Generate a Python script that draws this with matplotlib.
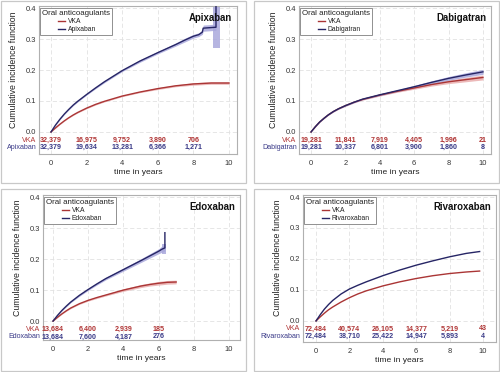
import matplotlib
matplotlib.use("Agg")
import matplotlib.pyplot as plt
from matplotlib.patches import Rectangle
from matplotlib.lines import Line2D
from matplotlib.legend_handler import HandlerLine2D
import matplotlib.transforms as mtransforms

plt.rcParams['font.family'] = ['Liberation Sans', 'DejaVu Sans']

RED = '#aa3535'
RED_BAND = '#e9adad'
BLUE = '#262565'
BLUE_BAND = '#a9a8dc'
RED_TXT = '#b03434'
BLUE_TXT = '#3a3a88'

# ---------------- data ----------------
drugs = ['Apixaban', 'Dabigatran', 'Edoxaban', 'Rivaroxaban']

# Apixaban panel
apx_vka_t = [0, 0.25, 0.5, 0.75, 1, 1.25, 1.5, 2, 2.5, 3, 4, 5, 6, 7, 8, 9, 10]
apx_vka_est = [0, 0.013, 0.025, 0.036, 0.046, 0.055, 0.063, 0.077, 0.089, 0.099, 0.116, 0.129, 0.140, 0.149, 0.155, 0.158, 0.158]
apx_vka_ci = [0, 0.001, 0.001, 0.001, 0.001, 0.0015, 0.0015, 0.002, 0.002, 0.002, 0.002, 0.002, 0.003, 0.003, 0.004, 0.004, 0.004]
apx_drug_t = [0, 0.25, 0.5, 0.75, 1, 1.25, 1.5, 2, 2.5, 3, 4, 5, 6, 7, 7.5, 8, 8.3, 8.5, 8.55, 9.27, 9.27]
apx_drug_est = [0, 0.022, 0.041, 0.058, 0.073, 0.087, 0.099, 0.121, 0.142, 0.162, 0.198, 0.229, 0.256, 0.282, 0.296, 0.309, 0.314, 0.322, 0.335, 0.338, 0.45]
apx_drug_ci = [0, 0.001, 0.0015, 0.0015, 0.002, 0.002, 0.002, 0.002, 0.0025, 0.003, 0.003, 0.004, 0.004, 0.005, 0.006, 0.006, 0.006, 0.007, 0.010, 0.010, 0.010]
apx_tail_t = [9.1, 9.5]
apx_tail_lo = [0.27, 0.27]
apx_tail_hi = [0.45, 0.45]

# Dabigatran panel
dab_vka_t = [0, 0.25, 0.5, 0.75, 1, 1.3, 1.6, 2, 2.5, 3, 4, 5, 6, 7, 8, 9, 10]
dab_vka_est = [0, 0.017, 0.032, 0.044, 0.055, 0.066, 0.075, 0.085, 0.096, 0.105, 0.119, 0.131, 0.142, 0.153, 0.162, 0.169, 0.176]
dab_vka_ci = [0, 0.001, 0.001, 0.001, 0.001, 0.0015, 0.0015, 0.002, 0.002, 0.002, 0.003, 0.003, 0.004, 0.005, 0.006, 0.007, 0.008]
dab_drug_t = [0, 0.25, 0.5, 0.75, 1, 1.3, 1.6, 2, 2.5, 3, 4, 5, 6, 7, 8, 9, 10]
dab_drug_est = [0, 0.017, 0.032, 0.044, 0.055, 0.066, 0.075, 0.085, 0.096, 0.106, 0.120, 0.133, 0.146, 0.160, 0.173, 0.184, 0.194]
dab_drug_ci = [0, 0.001, 0.001, 0.001, 0.001, 0.0015, 0.0015, 0.002, 0.002, 0.002, 0.003, 0.003, 0.004, 0.005, 0.006, 0.007, 0.008]

# Edoxaban panel
edo_vka_t = [0, 0.25, 0.5, 0.75, 1, 1.5, 2, 2.5, 3, 4, 5, 5.5, 6, 6.5, 7.0]
edo_vka_est = [0, 0.012, 0.023, 0.033, 0.042, 0.056, 0.067, 0.076, 0.084, 0.100, 0.113, 0.118, 0.122, 0.125, 0.126]
edo_vka_ci = [0, 0.001, 0.001, 0.0015, 0.002, 0.002, 0.0025, 0.003, 0.003, 0.004, 0.005, 0.005, 0.006, 0.006, 0.006]
edo_drug_t = [0, 0.25, 0.5, 0.75, 1, 1.5, 2, 2.5, 3, 4, 5, 5.5, 6, 6.2, 6.36, 6.36]
edo_drug_est = [0, 0.018, 0.034, 0.048, 0.061, 0.083, 0.102, 0.120, 0.137, 0.166, 0.195, 0.210, 0.225, 0.232, 0.236, 0.285]
edo_drug_ci = [0, 0.001, 0.0015, 0.002, 0.002, 0.003, 0.003, 0.0035, 0.004, 0.005, 0.006, 0.007, 0.008, 0.010, 0.010, 0.010]
edo_tail_t = [6.2, 6.4]
edo_tail_lo = [0.215, 0.215]
edo_tail_hi = [0.25, 0.25]

# Rivaroxaban panel
riv_vka_t = [0, 0.25, 0.5, 0.75, 1, 1.5, 2, 2.5, 3, 4, 5, 6, 7, 8, 9, 9.8]
riv_vka_est = [0, 0.013, 0.025, 0.036, 0.045, 0.061, 0.075, 0.087, 0.097, 0.113, 0.126, 0.137, 0.146, 0.153, 0.158, 0.161]
riv_drug_t = [0, 0.25, 0.5, 0.75, 1, 1.5, 2, 2.5, 3, 4, 5, 6, 7, 8, 9, 9.8]
riv_drug_est = [0, 0.020, 0.038, 0.053, 0.066, 0.087, 0.103, 0.115, 0.126, 0.146, 0.164, 0.180, 0.194, 0.207, 0.218, 0.224]

risk_times = [0, 2, 4, 6, 8, 10]
apx_risk_vka = ['32,379', '16,975', '9,752', '3,890', '706']
apx_risk_drug = ['32,379', '19,634', '13,281', '6,366', '1,271']
dab_risk_vka = ['19,281', '11,841', '7,919', '4,405', '1,996', '21']
dab_risk_drug = ['19,281', '10,337', '6,801', '3,900', '1,860', '8']
edo_risk_vka = ['13,684', '6,400', '2,939', '185']
edo_risk_drug = ['13,684', '7,600', '4,187', '276']
riv_risk_vka = ['72,484', '40,574', '26,105', '14,377', '5,219', '43']
riv_risk_drug = ['72,484', '38,710', '25,422', '14,947', '5,893', '4']

x_ticks = [0, 2, 4, 6, 8, 10]
y_ticks = [0.0, 0.1, 0.2, 0.3, 0.4]

# ---------------- figure ----------------
W, H = 500, 372
fig = plt.figure(figsize=(W / 100, H / 100), dpi=100)


def fx(px):
    return px / W


def fy(py):
    return 1 - py / H


def frame(l, t, r, b):
    fig.add_artist(Rectangle((fx(l), fy(b)), fx(r) - fx(l), fy(t) - fy(b),
                             transform=fig.transFigure, fill=False,
                             edgecolor='#c8c8c8', linewidth=0.9))


def make_axes(l, t, r, b, xlim, ylim):
    ax = fig.add_axes([fx(l), fy(b), fx(r) - fx(l), fy(t) - fy(b)])
    ax.set_xlim(*xlim)
    ax.set_ylim(*ylim)
    return ax


def draw_curve(ax, t, est, ci, col, band, tail=None):
    if ci is not None:
        lo = [e - c for e, c in zip(est, ci)]
        hi = [e + c for e, c in zip(est, ci)]
        ax.fill_between(t, lo, hi, color=band, alpha=0.85, linewidth=0, zorder=2)
    if tail is not None:
        tt, tlo, thi = tail
        ax.fill_between(tt, tlo, thi, color=band, alpha=0.85, linewidth=0, zorder=2)
    ax.plot(t, est, color=col, linewidth=1.0, zorder=3, solid_joinstyle='round')


def draw_panel(ax, name, vka, drug, risk_vka, risk_drug, tail=None):
    draw_curve(ax, *vka, RED, RED_BAND)
    draw_curve(ax, *drug, BLUE, BLUE_BAND, tail)
    ax.set_xticks(x_ticks)
    ax.set_yticks(y_ticks)
    ax.set_yticklabels([f'{v:.1f}' for v in y_ticks])
    ax.tick_params(axis='both', length=0, labelsize=5.4, colors='#333333')
    ax.tick_params(axis='x', pad=4)
    ax.tick_params(axis='y', pad=2)
    for s in ax.spines.values():
        s.set_color('#b0b0b0')
        s.set_linewidth(0.8)
    ax.grid(True, color='#e2e2e2', linestyle=(0, (5, 3)), linewidth=0.6, zorder=0)
    ax.set_axisbelow(True)
    ax.set_ylabel('Cumulative incidence function', fontsize=6.3, color='#222222')
    ax.set_xlabel('time in years', fontsize=6.1, labelpad=2, color='#222222')
    ax.yaxis.set_label_coords(-0.108, 0.57)
    trans = mtransforms.blended_transform_factory(ax.transAxes, ax.transData)
    ax.text(-0.012, -0.026, 'VKA', transform=trans, ha='right', va='center',
            fontsize=5.1, color=RED_TXT)
    ax.text(-0.012, -0.051, name, transform=trans, ha='right', va='center',
            fontsize=5.1, color=BLUE_TXT)
    for xt, v in zip(risk_times, risk_vka):
        ax.text(xt, -0.026, v, ha='center', va='center', fontsize=5.1,
                fontweight='bold', color=RED_TXT)
    for xt, v in zip(risk_times, risk_drug):
        ax.text(xt, -0.051, v, ha='center', va='center', fontsize=5.1,
                fontweight='bold', color=BLUE_TXT)
    ax.text(0.975, 0.95, name, transform=ax.transAxes, ha='right', va='top',
            fontsize=6.9, fontweight='bold', color='#111111')
    handles = [Line2D([], [], color=RED, lw=1.0), Line2D([], [], color=BLUE, lw=1.0)]
    leg = ax.legend(handles, ['VKA', name], title='Oral anticoagulants',
                    loc='upper left', bbox_to_anchor=(0.005, 0.985),
                    fontsize=4.9, title_fontsize=5.7, frameon=True,
                    fancybox=False, edgecolor='#909090', framealpha=1,
                    handlelength=3.4, handletextpad=0.4, borderpad=0.3,
                    labelspacing=0.15, borderaxespad=0.0,
                    handler_map={Line2D: HandlerLine2D(xpad=2.3)})
    leg.get_frame().set_linewidth(0.7)
    leg._legend_box.align = 'left'
    leg.get_title().set_color('#222222')
    for txt in leg.get_texts():
        txt.set_color('#222222')


# panel frames
frame(1, 1, 246, 183)
frame(254, 1, 499, 183)
frame(1, 189, 246, 371)
frame(254, 189, 499, 371)

# panel 1: Apixaban
ax1 = make_axes(39, 6, 237, 154, (-0.674, 10.45), (-0.071, 0.4065))
draw_panel(ax1, 'Apixaban',
           (apx_vka_t, apx_vka_est, apx_vka_ci),
           (apx_drug_t, apx_drug_est, apx_drug_ci),
           apx_risk_vka, apx_risk_drug,
           tail=(apx_tail_t, apx_tail_lo, apx_tail_hi))

# panel 2: Dabigatran
ax2 = make_axes(299, 6, 491, 154, (-0.70, 10.47), (-0.071, 0.4065))
draw_panel(ax2, 'Dabigatran',
           (dab_vka_t, dab_vka_est, dab_vka_ci),
           (dab_drug_t, dab_drug_est, dab_drug_ci),
           dab_risk_vka, dab_risk_drug)

# panel 3: Edoxaban
ax3 = make_axes(43, 195, 240, 340, (-0.57, 10.63), (-0.061, 0.4065))
draw_panel(ax3, 'Edoxaban',
           (edo_vka_t, edo_vka_est, edo_vka_ci),
           (edo_drug_t, edo_drug_est, edo_drug_ci),
           edo_risk_vka, edo_risk_drug,
           tail=(edo_tail_t, edo_tail_lo, edo_tail_hi))

# panel 4: Rivaroxaban
ax4 = make_axes(303, 195, 496, 342, (-0.78, 10.78), (-0.068, 0.4065))
draw_panel(ax4, 'Rivaroxaban',
           (riv_vka_t, riv_vka_est, None),
           (riv_drug_t, riv_drug_est, None),
           riv_risk_vka, riv_risk_drug)

fig.savefig('out.png', dpi=100)
